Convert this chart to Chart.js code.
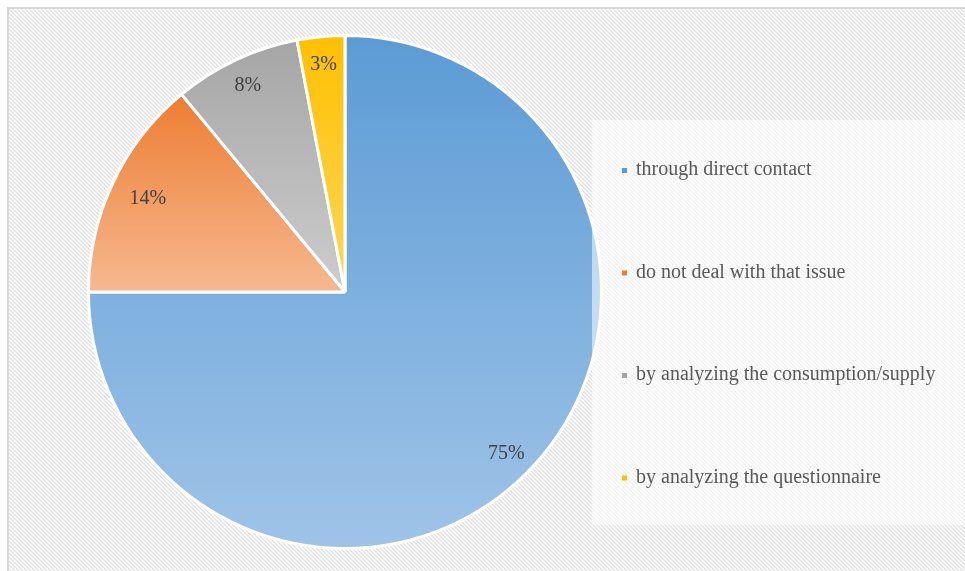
<!DOCTYPE html>
<html>
<head>
<meta charset="utf-8">
<script src="https://cdn.jsdelivr.net/npm/chart.js@4"></script>
<style>
  html, body { margin: 0; padding: 0; background: #fff; }
  #wrap { width: 965px; height: 571px; }
</style>
</head>
<body>
<div id="wrap"><canvas id="pieChart" width="965" height="571"></canvas></div>
<script>
// chart data
const labels = [
    'through direct contact',
    'do not deal with that issue',
    'by analyzing the consumption/supply',
    'by analyzing the questionnaire'
];
const shares = [75, 14, 8, 3];
const topColors = ['#5b9bd5', '#ed7d31', '#a5a5a5', '#ffc000'];
const bottomColors = ['#a0c4e8', '#f6b891', '#cdcdcd', '#ffd75a'];

const total = shares.reduce((a, b) => a + b, 0);

// vertical gradient over the bounding box of each slice
function sliceGradient(context) {
    const chart = context.chart;
    const area = chart.chartArea;
    const i = context.dataIndex;
    if (!area || i === undefined) return topColors[i || 0];
    const cx = (area.left + area.right) / 2;
    const cy = (area.top + area.bottom) / 2;
    const r = Math.min(area.right - area.left, area.bottom - area.top) / 2;
    let start = -Math.PI / 2;
    for (let k = 0; k < i; k++) start += shares[k] / total * Math.PI * 2;
    const end = start + shares[i] / total * Math.PI * 2;
    const ys = [cy, cy + Math.sin(start) * r, cy + Math.sin(end) * r];
    [-Math.PI / 2, Math.PI / 2, Math.PI * 1.5].forEach(a => {
        if (a >= start && a <= end) ys.push(cy + Math.sin(a) * r);
    });
    const y0 = Math.min(...ys), y1 = Math.max(...ys);
    const g = chart.ctx.createLinearGradient(0, y0, 0, y1);
    g.addColorStop(0, topColors[i]);
    g.addColorStop(1, bottomColors[i]);
    return g;
}

// striped backdrop with thin border
const backdrop = {
    id: 'backdrop',
    beforeDraw(chart) {
        const ctx = chart.ctx;
        const p = document.createElement('canvas');
        p.width = 4; p.height = 4;
        const pc = p.getContext('2d');
        pc.fillStyle = '#ffffff';
        pc.fillRect(0, 0, 4, 4);
        pc.strokeStyle = '#e0e0e0';
        pc.lineWidth = 1.3;
        pc.beginPath();
        pc.moveTo(-1, -1); pc.lineTo(5, 5);
        pc.moveTo(-1, 3); pc.lineTo(1, 5);
        pc.moveTo(3, -1); pc.lineTo(5, 1);
        pc.stroke();
        ctx.save();
        ctx.fillStyle = '#ffffff';
        ctx.fillRect(0, 0, chart.width, chart.height);
        ctx.fillStyle = ctx.createPattern(p, 'repeat');
        ctx.fillRect(9, 9, chart.width - 9, chart.height - 9);
        ctx.strokeStyle = '#d9d9d9';
        ctx.lineWidth = 2;
        ctx.beginPath();
        ctx.moveTo(8, chart.height);
        ctx.lineTo(8, 8);
        ctx.lineTo(chart.width, 8);
        ctx.stroke();
        ctx.restore();
    }
};

// percentage labels inside the slices
const sliceLabels = {
    id: 'sliceLabels',
    afterDatasetsDraw(chart) {
        const ctx = chart.ctx;
        const meta = chart.getDatasetMeta(0);
        ctx.save();
        ctx.font = '20px "Liberation Serif", "DejaVu Serif", serif';
        ctx.fillStyle = '#404040';
        ctx.textAlign = 'center';
        ctx.textBaseline = 'middle';
        meta.data.forEach((arc, i) => {
            const p = arc.getProps(['x', 'y', 'startAngle', 'endAngle', 'outerRadius']);
            const mid = (p.startAngle + p.endAngle) / 2;
            const d = p.outerRadius * (i === 1 ? 0.85 : 0.89);
            ctx.fillText(Math.round(shares[i] / total * 100) + '%',
                p.x + Math.cos(mid) * d, p.y + Math.sin(mid) * d);
        });
        ctx.restore();
    }
};

// legend in a translucent box on the right
const sideLegend = {
    id: 'sideLegend',
    afterDraw(chart) {
        const ctx = chart.ctx;
        ctx.save();
        ctx.fillStyle = 'rgba(255,255,255,0.55)';
        ctx.fillRect(592, 120, chart.width - 592, 405);
        ctx.font = '20px "Liberation Serif", "DejaVu Serif", serif';
        ctx.textBaseline = 'middle';
        labels.forEach((lab, i) => {
            const y = 170 + i * 102.5;
            ctx.fillStyle = topColors[i];
            ctx.fillRect(622, y - 2, 5, 5);
            ctx.fillStyle = '#595959';
            ctx.fillText(lab, 636, y);
        });
        ctx.restore();
    }
};

new Chart(document.getElementById('pieChart'), {
    type: 'pie',
    data: {
        labels: labels,
        datasets: [{
            data: shares,
            backgroundColor: sliceGradient,
            borderColor: '#ffffff',
            borderWidth: 3
        }]
    },
    options: {
        responsive: false,
        animation: false,
        layout: {
            padding: { left: 87, top: 34, right: 362, bottom: 21 }
        },
        plugins: {
            legend: { display: false },
            tooltip: { enabled: false }
        }
    },
    plugins: [backdrop, sliceLabels, sideLegend]
});
</script>
</body>
</html>
